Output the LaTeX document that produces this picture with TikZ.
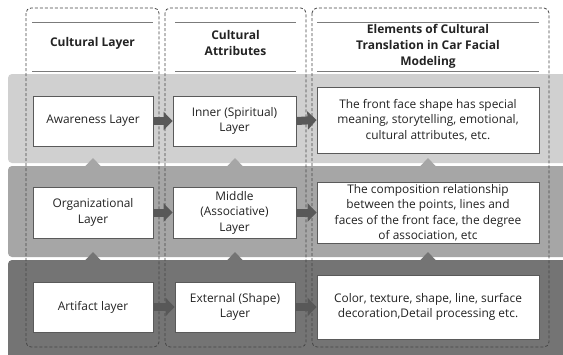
\documentclass[tikz,border=0pt]{standalone}
\usepackage{fontspec}
\setmainfont{Open Sans}
\usetikzlibrary{arrows.meta}
\definecolor{bandA}{RGB}{208,208,208}
\definecolor{bandB}{RGB}{166,166,166}
\definecolor{bandC}{RGB}{116,116,116}
\definecolor{arr}{RGB}{88,88,88}
\definecolor{edge}{RGB}{90,90,90}
\definecolor{dash}{RGB}{70,70,70}
\definecolor{txt}{RGB}{35,35,35}
\tikzset{
  cell/.style={draw=edge, line width=0.9pt, fill=white, inner sep=0pt, align=center,
    font=\fontsize{11.9}{15.5}\selectfont, text=txt},
  head/.style={inner sep=0pt, align=center, font=\fontsize{12}{16}\selectfont\bfseries, text=txt},
  flow/.style={draw=arr, line width=8pt, -{Triangle[length=9pt,width=18pt]}},
  colbox/.style={draw=dash, line width=0.8pt, dash pattern=on 3pt off 2pt, rounded corners=5pt},
  hline/.style={draw=edge!80, line width=1pt},
}
\begin{document}
\begin{tikzpicture}[x=1pt,y=-1pt]
\useasboundingbox (0,0) rectangle (563,354);
\fill[white] (0,0) rectangle (563,354);
% bands
\fill[bandA, rounded corners=4pt] (8,74) rectangle (575,163);
\fill[bandB, rounded corners=4pt] (8,166) rectangle (575,257);
\fill[bandC, rounded corners=4pt] (8,260) rectangle (575,370);
% notches
\foreach \cx in {93,235,428}{
  \fill[bandB] (\cx-8,166.5) -- (\cx,158) -- (\cx+8,166.5) -- cycle;
  \fill[bandC] (\cx-8,260.5) -- (\cx,252) -- (\cx+8,260.5) -- cycle;
}
% column frames
\draw[colbox] (26,8) rectangle (159,347);
\draw[colbox] (165,8) rectangle (306,347);
\draw[colbox] (312,8) rectangle (549,347);
% header lines
\foreach \xa/\xb in {32/153,175/296,317/539}{
  \draw[hline] (\xa,22) -- (\xb,22);
  \draw[hline] (\xa,71) -- (\xb,71);
}
% headers
\node[head] (h1) at (92.5,43.5) {Cultural Layer};
\node[head] (h2) at (235.5,42.5) {Cultural\\Attributes};
\node[head] (h3) at (428,46.5) {Elements of Cultural\\Translation in Car Facial\\Modeling};
% row 1
\node[cell, minimum width=120pt, minimum height=50pt] (a1) at (93,121) {Awareness Layer};
\node[cell, minimum width=123pt, minimum height=50pt] (a2) at (234.5,121) {Inner (Spiritual)\\Layer};
\node[cell, minimum width=222pt, minimum height=66pt] (a3) at (428,120) {The front face shape has special\\meaning, storytelling, emotional,\\cultural attributes, etc.};
% row 2
\node[cell, minimum width=120pt, minimum height=51pt] (b1) at (93,212.5) {Organizational\\Layer};
\node[cell, minimum width=123pt, minimum height=51pt] (b2) at (234.5,212.5) {Middle\\(Associative)\\Layer};
\node[cell, minimum width=222pt, minimum height=61pt] (b3) at (428,212.5) {The composition relationship\\between the points, lines and\\faces of the front face, the degree\\of association, etc};
% row 3
\node[cell, minimum width=120pt, minimum height=50pt] (c1) at (93,307) {Artifact layer};
\node[cell, minimum width=120pt, minimum height=50pt] (c2) at (235,307) {External (Shape)\\Layer};
\node[cell, minimum width=222pt, minimum height=64pt] (c3) at (428,307) {Color, texture, shape, line, surface\\decoration,Detail processing etc.};
% arrows
\draw[flow] (a1.east) -- (a2.west);
\draw[flow] (a2.east) -- (a3.west);
\draw[flow] (b1.east) -- (b2.west);
\draw[flow] (b2.east) -- (b3.west);
\draw[flow] (c1.east) -- (c2.west);
\draw[flow] (c2.east) -- (c3.west);
\end{tikzpicture}
\end{document}
